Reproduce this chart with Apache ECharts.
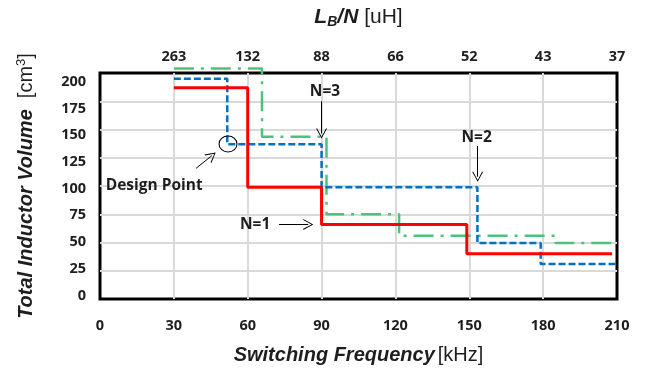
<!DOCTYPE html>
<html><head><meta charset="utf-8">
<script src="https://cdn.jsdelivr.net/npm/echarts@6/dist/echarts.min.js"></script>
<style>html,body{margin:0;padding:0;background:#fff}#c{width:648px;height:374px}</style>
</head><body><div id="c"></div>
<script>
// Data (switching frequency kHz, volume cm^3) — step start points
const redN1   = [[30,187],[60,99],[90,66],[149,40],[208,40]];
const blueN2  = [[30,195],[51.7,137],[90,99],[153.3,49.5],[179,31],[210,31]];
const greenN3 = [[30,204],[65.8,143.5],[92,75],[121.5,56],[185,49.5],[210,49.5]];
const bottomTicks = [0,30,60,90,120,150,180,210];
const topTickLabels = ['', '263', '132', '88', '66', '52', '43', '37'];
const yTicks = [0,25,50,75,100,125,150,175,200];

const tickFont = {fontFamily:"'Open Sans',sans-serif", fontWeight:'bold', fontSize:14.5, color:'#1e1e1e'};
const annFont = {fontFamily:"'Open Sans',sans-serif", fontWeight:'bold', fontSize:15.5, color:'#1e1e1e'};
const arrowHead = 'path://M5,0 L10,10 L9,10 L5,1.8 L1,10 L0,10 Z';

const chart = echarts.init(document.getElementById('c'), null, {renderer:'canvas'});
chart.setOption({
  animation:false,
  backgroundColor:'#fff',
  grid:{left:100, right:31, top:73, bottom:75, show:true, borderColor:'#000', borderWidth:3, backgroundColor:'transparent'},
  xAxis:[{
    type:'value', position:'bottom', min:0, max:210, interval:30,
    axisLine:{show:false}, axisTick:{show:false},
    splitLine:{show:true, showMinLine:false, showMaxLine:false, lineStyle:{color:'#d9d9d9', width:2}},
    axisLabel:Object.assign({margin:19}, tickFont),
    name:'{b|Switching Frequency}{n|[kHz]}', nameLocation:'middle', nameGap:46,
    nameTextStyle:{rich:{
      b:{fontFamily:"'Liberation Sans',Arial,sans-serif", fontWeight:'bold', fontStyle:'italic', fontSize:20, color:'#1e1e1e'},
      n:{fontFamily:"'Liberation Sans',Arial,sans-serif", fontSize:20, color:'#1e1e1e', padding:[0,0,0,3]}
    }}
  },{
    type:'value', position:'top', min:0, max:210, interval:30,
    axisLine:{show:false}, axisTick:{show:false}, splitLine:{show:false},
    axisLabel:Object.assign({margin:9, formatter:v=>topTickLabels[Math.round(v/30)]}, tickFont),
    name:'{b|L}{s|B}{b|/N}{n| [uH]}', nameLocation:'middle', nameGap:45,
    nameTextStyle:{rich:{
      b:{fontFamily:"'Liberation Sans',Arial,sans-serif", fontWeight:'bold', fontStyle:'italic', fontSize:21, color:'#1e1e1e', lineHeight:22},
      s:{fontFamily:"'Liberation Sans',Arial,sans-serif", fontWeight:'bold', fontStyle:'italic', fontSize:14, color:'#1e1e1e', lineHeight:22, verticalAlign:'bottom', padding:[0,0,-1,0]},
      n:{fontFamily:"'Liberation Sans',Arial,sans-serif", fontSize:21, color:'#1e1e1e', lineHeight:22}
    }}
  }],
  yAxis:[{
    type:'value', min:0, max:200, interval:25,
    axisLine:{show:false}, axisTick:{show:false},
    splitLine:{show:true, showMinLine:false, showMaxLine:false, lineStyle:{color:'#d9d9d9', width:2}},
    axisLabel:{show:false},
    name:'{b|Total Inductor Volume}{n|  [cm}{p|3}{n|]}', nameLocation:'middle', nameGap:63,
    nameTextStyle:{rich:{
      b:{fontFamily:"'Liberation Sans',Arial,sans-serif", fontWeight:'bold', fontStyle:'italic', fontSize:20, color:'#1e1e1e', lineHeight:22},
      n:{fontFamily:"'Liberation Sans',Arial,sans-serif", fontSize:20, color:'#1e1e1e', lineHeight:22},
      p:{fontFamily:"'Liberation Sans',Arial,sans-serif", fontSize:13, color:'#1e1e1e', lineHeight:22, verticalAlign:'top'}
    }}
  },{
    // label-only axis: tick labels sit slightly compressed as in the reference
    type:'value', position:'left', min:-3.3, max:208.2,
    axisLine:{show:false}, axisTick:{show:false}, splitLine:{show:false},
    axisLabel:Object.assign({margin:14, customValues:yTicks}, tickFont)
  }],
  series:[
    {
      name:'N=3', type:'line', step:'end', data:greenN3, symbol:'none', clip:false, z:3,
      lineStyle:{color:'#4cc27a', width:2.5, type:[20,7,3,7]}
    },
    {
      name:'N=2', type:'line', step:'end', data:blueN2, symbol:'none', clip:false, z:4,
      lineStyle:{color:'#0070c0', width:2.5, type:[7,3]}
    },
    {
      name:'N=1', type:'line', step:'end', data:redN1, symbol:'none', clip:false, z:5,
      lineStyle:{color:'#ff0000', width:3},
      markLine:{
        silent:true, symbol:['none', arrowHead], symbolSize:[11,10],
        lineStyle:{color:'#000', width:1, type:'solid'}, label:{show:false},
        data:[
          [{coord:[90,175]},{coord:[90,146.5]}],
          [{coord:[153.4,135.4]},{coord:[153.4,108.2]}],
          [{coord:[72.7,66]},{coord:[84.6,66]}],
          [{coord:[39,115.6]},{coord:[45.4,126.8]}]
        ]
      },
      markPoint:{
        silent:true,
        data:[
          {name:'circle', coord:[52,137.2], symbol:'circle', symbolSize:[18,16], itemStyle:{color:'rgba(0,0,0,0)', borderColor:'#000', borderWidth:1}, label:{show:false}},
          {name:'N=3', coord:[91.4,183.6], symbol:'circle', symbolSize:1, itemStyle:{color:'rgba(0,0,0,0)'}, label:Object.assign({show:true, formatter:'{b}', position:'inside'}, annFont)},
          {name:'N=2', coord:[153,143], symbol:'circle', symbolSize:1, itemStyle:{color:'rgba(0,0,0,0)'}, label:Object.assign({show:true, formatter:'{b}', position:'inside'}, annFont)},
          {name:'N=1', coord:[63,66], symbol:'circle', symbolSize:1, itemStyle:{color:'rgba(0,0,0,0)'}, label:Object.assign({show:true, formatter:'{b}', position:'inside'}, annFont)},
          {name:'Design Point', coord:[22,100.3], symbol:'circle', symbolSize:1, itemStyle:{color:'rgba(0,0,0,0)'}, label:Object.assign({show:true, formatter:'{b}', position:'inside'}, annFont)}
        ]
      }
    }
  ]
});
</script></body></html>
